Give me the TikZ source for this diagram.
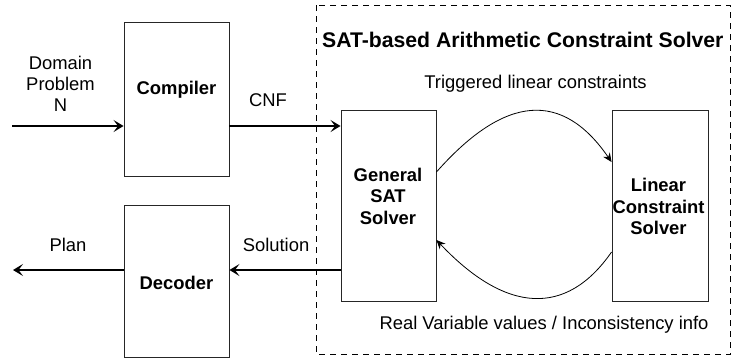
\documentclass[tikz,border=0pt]{standalone}
\usepackage{fontspec}
\setmainfont{Liberation Sans}
\usetikzlibrary{arrows.meta}
\begin{document}
\begin{tikzpicture}[x=1pt,y=-1pt,
  box/.style={draw=black!85,line width=0.9pt,minimum width=#1,inner sep=0pt},
  lbl/.style={font=\fontsize{18.4}{21}\selectfont,inner sep=0pt,align=center},
  blbl/.style={font=\fontsize{18.4}{21.5}\selectfont\bfseries,inner sep=0pt,align=center},
  flow/.style={line width=1.7pt,-{Stealth[length=10pt,width=12pt,inset=4.5pt]}},
  loop/.style={line width=0.8pt,-{Stealth[length=9pt,width=8pt,inset=3pt]}}]
\useasboundingbox (0,0) rectangle (732,360);

% solver frame
\draw[dashed,line width=0.9pt,dash pattern=on 6pt off 5pt] (316,5) rectangle (730.5,354);
\node[anchor=west,font=\fontsize{21.2}{24}\selectfont\bfseries,inner sep=0pt] (title) at (322,40) {SAT-based Arithmetic Constraint Solver};

% boxes
\node[box=105pt,minimum height=154pt] (comp) at (176.5,99) {};
\node[box=105pt,minimum height=152pt] (dec) at (176.5,281) {};
\node[box=95pt,minimum height=191pt] (sat) at (388.5,205.5) {};
\node[box=96pt,minimum height=191pt] (lin) at (660,205.5) {};

\node[blbl] (compt) at (176.5,90) {Compiler};
\node[blbl] (dect) at (176.5,283) {Decoder};
\node[blbl] (satt) at (388,196) {General\\SAT\\Solver};
\node[blbl] (lint) at (658.5,206.5) {Linear\\Constraint\\Solver};

% outer connectors
\coordinate (in) at (12,126);
\coordinate (plan) at (13,270);
\draw[flow] (in) -- (in -| comp.west);
\draw[flow] (comp.east |- in) -- (sat.west |- in);
\draw[flow] (sat.west |- plan) -- (dec.east |- plan);
\draw[flow] (dec.west |- plan) -- (plan);

% exchange between the two solvers
\draw[loop] ([yshift=33.5pt]sat.east) .. controls +(69,-78) and +(-49,-71.3) .. ([yshift=43.5pt]lin.west);
\draw[loop] ([yshift=-46.5pt]lin.west) .. controls +(-45.3,65.3) and +(69.3,73.3) .. ([yshift=-34.5pt]sat.east);

% labels
\node[lbl] (dom) at (60.5,83.5) {Domain\\Problem\\N};
\node[lbl] (cnf) at (268,100) {CNF};
\node[lbl] (plant) at (68,245) {Plan};
\node[lbl] (sol) at (276,245) {Solution};
\node[lbl] (trig) at (535.5,84) {Triggered linear constraints};
\node[lbl] (real) at (544,325) {Real Variable values / Inconsistency info};
\end{tikzpicture}
\end{document}
